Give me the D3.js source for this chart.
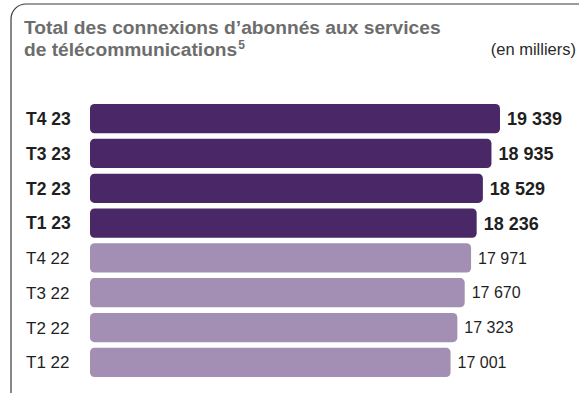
<!DOCTYPE html>
<html>
<head>
<meta charset="utf-8">
<script src="https://cdn.jsdelivr.net/npm/d3@7"></script>
<style>
  html, body { margin: 0; padding: 0; background: #fff; }
  svg { display: block; font-family: "Liberation Sans", Arial, sans-serif; }
</style>
</head>
<body>
<svg id="chart" width="579" height="395"></svg>
<script>
// Quarterly totals, newest first (thousands of connections)
const quarters = ["T4 23", "T3 23", "T2 23", "T1 23", "T4 22", "T3 22", "T2 22", "T1 22"];
const connections = [19339, 18935, 18529, 18236, 17971, 17670, 17323, 17001];
const highlighted = [true, true, true, true, false, false, false, false];
const valueLabels = ["19 339", "18 935", "18 529", "18 236", "17 971", "17 670", "17 323", "17 001"];

const titleLines = ["Total des connexions d\u2019abonnés aux services", "de télécommunications"];
const unitNote = "(en milliers)";

const data = quarters.map((q, i) => ({
  q, v: connections[i], strong: highlighted[i], label: valueLabels[i]
}));

const svg = d3.select("#chart");

// Frame: left rule and top rule joined by a rounded corner
const fx = 11, fy = 4, r = 15;
svg.append("path")
  .attr("d", `M${fx},393 L${fx},${fy + r} A${r},${r} 0 0 1 ${fx + r},${fy} L579,${fy}`)
  .attr("fill", "none")
  .attr("stroke", "#3a3a3a")
  .attr("stroke-width", 1.2);

// Title
const title = svg.append("text")
  .attr("fill", "#6d6d6d")
  .attr("font-weight", "bold")
  .attr("font-size", 19.2);
title.append("tspan").attr("x", 24).attr("y", 33.5).text(titleLines[0]);
title.append("tspan").attr("x", 24).attr("y", 56).text(titleLines[1]);
title.append("tspan").attr("dy", -7).attr("dx", 1).attr("font-size", 12).text("5");

svg.append("text")
  .attr("x", 576)
  .attr("y", 55)
  .attr("text-anchor", "end")
  .attr("fill", "#2a2a2a")
  .attr("font-size", 16.5)
  .text(unitNote);

// Scales
const x = d3.scaleLinear().domain([0, d3.max(connections)]).range([91, 500]);
const y = d3.scaleBand().domain(quarters).range([101.25, 379.75]).paddingInner(0.158).paddingOuter(0.079);

const dark = "#4a2868", light = "#a28fb3";

const rows = svg.append("g").selectAll("g").data(data).join("g");

rows.append("rect")
  .attr("x", x(0) - 1)
  .attr("y", d => y(d.q))
  .attr("width", d => x(d.v) - x(0) + 1)
  .attr("height", y.bandwidth())
  .attr("rx", 4.5)
  .attr("fill", d => d.strong ? dark : light);

rows.append("text")
  .attr("x", 26)
  .attr("y", d => y(d.q) + y.bandwidth() / 2)
  .attr("dy", "0.36em")
  .attr("fill", "#1f1f1f")
  .attr("font-size", d => d.strong ? 17.5 : 17)
  .attr("font-weight", d => d.strong ? "bold" : "normal")
  .text(d => d.q);

rows.append("text")
  .attr("x", d => x(d.v) + 7)
  .attr("y", d => y(d.q) + y.bandwidth() / 2)
  .attr("dy", "0.36em")
  .attr("fill", "#1f1f1f")
  .attr("font-size", d => d.strong ? 18 : 16)
  .attr("font-weight", d => d.strong ? "bold" : "normal")
  .text(d => d.label);
</script>
</body>
</html>
